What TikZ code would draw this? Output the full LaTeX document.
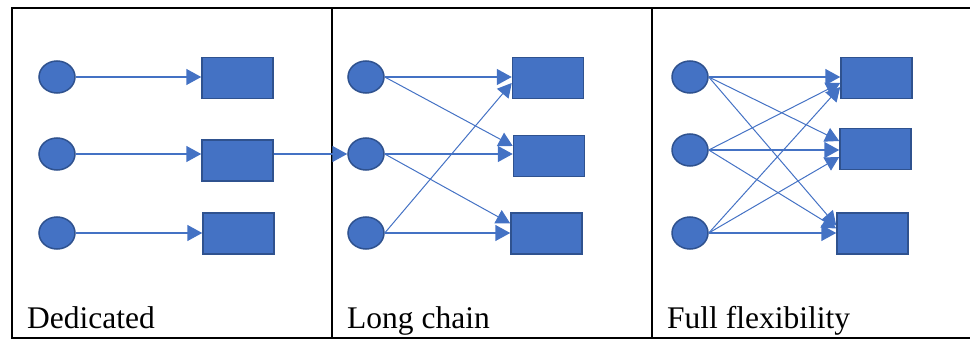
\documentclass[tikz,border=0pt]{standalone}
\usepackage{fontspec}
\setmainfont{Liberation Serif}
\usetikzlibrary{arrows.meta,calc,shapes.geometric}
\definecolor{nodeblue}{HTML}{4472C4}
\definecolor{edgeblue}{HTML}{2F528F}
\tikzset{
  src/.style={ellipse, draw=edgeblue, fill=nodeblue, line width=1.5pt,
              minimum width=36pt, minimum height=32pt, inner sep=0pt},
  sink/.style={rectangle, draw=edgeblue, fill=nodeblue, line width=1.5pt,
               minimum width=71pt, minimum height=41pt, inner sep=0pt},
  link/.style={draw=nodeblue, line width=1.5pt,
               -{Triangle[length=15pt,width=16pt]}},
  cross/.style={draw=nodeblue, line width=1pt,
               -{Triangle[length=14pt,width=15pt]}},
  frame/.style={line width=2pt, black},
  caption/.style={anchor=base west, inner sep=0pt,
                  font=\fontsize{31.5}{36}\selectfont}
}
\begin{document}
\begin{tikzpicture}[x=1pt, y=-1pt]
\useasboundingbox (0,0) rectangle (970,339);

% table grid (open on the right)
\draw[frame] (970,8) -- (12,8) -- (12,338) -- (970,338);
\draw[frame] (332,8) -- (332,338);
\draw[frame] (652,8) -- (652,338);

% ---- Dedicated ----
\node[src] (a1) at (57,77) {};
\node[src] (a2) at (57,154) {};
\node[src] (a3) at (57,233) {};
\node[sink] (p1) at (237.5,78) {};
\node[sink] (p2) at (237.5,160.5) {};
\node[sink] (p3) at (238.5,233.5) {};
\draw[link] (a1.east) -- (a1.east -| p1.west);
\draw[link] (a2.east) -- (a2.east -| p2.west);
\draw[link] (a3.east) -- (a3.east -| p3.west);
\node[caption] (t1) at (27,329) {Dedicated};

% ---- Long chain ----
\node[src] (b1) at (366,77) {};
\node[src] (b2) at (366,154) {};
\node[src] (b3) at (366,233) {};
\node[sink] (q1) at (548,78) {};
\node[sink] (q2) at (549,156) {};
\node[sink] (q3) at (546.5,233.5) {};
\draw[link] (b1.east) -- (b1.east -| q1.west);
\draw[link] (b2.east) -- (b2.east -| q2.west);
\draw[link] (b3.east) -- (b3.east -| q3.west);
\draw[cross] (b1.east) -- ($(q2.west)+(0,-10)$);
\draw[cross] (b2.east) -- ($(q3.west)+(0,-10)$);
\draw[cross] (b3.east) -- ($(q1.west)+(0,5)$);
\draw[link] (p2.east |- b2.west) -- (b2.west);
\node[caption] (t2) at (347,329) {Long chain};

% ---- Full flexibility ----
\node[src] (c1) at (690,77) {};
\node[src] (c2) at (690,150) {};
\node[src] (c3) at (690,233) {};
\node[sink] (r1) at (876.5,78) {};
\node[sink] (r2) at (875.5,149) {};
\node[sink] (r3) at (872.5,233.5) {};
\draw[link] (c1.east) -- (c1.east -| r1.west);
\draw[link] (c2.east) -- (c2.east -| r2.west);
\draw[link] (c3.east) -- (c3.east -| r3.west);
\draw[cross] (c1.east) -- ($(r2.west)+(0,-8)$);
\draw[cross] (c1.east) -- ($(r3.west)+(0,-8)$);
\draw[cross] (c2.east) -- ($(r1.west)+(0,5)$);
\draw[cross] (c2.east) -- ($(r3.west)+(0,-5)$);
\draw[cross] (c3.east) -- ($(r1.west)+(0,9)$);
\draw[cross] (c3.east) -- ($(r2.west)+(0,8)$);
\node[caption] (t3) at (667,329) {Full flexibility};
\end{tikzpicture}
\end{document}
